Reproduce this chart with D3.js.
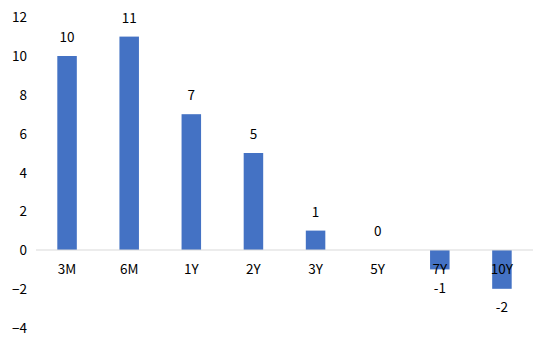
<!DOCTYPE html>
<html>
<head>
<meta charset="utf-8">
<script src="https://cdn.jsdelivr.net/npm/d3@7"></script>
<style>
  html, body { margin: 0; padding: 0; background: #fff; }
  svg { display: block; }
  text { font-family: "Noto Sans CJK SC", "Noto Sans", sans-serif; font-size: 13.5px; fill: #000; }
</style>
</head>
<body>
<script>
const categories = ["3M", "6M", "1Y", "2Y", "3Y", "5Y", "7Y", "10Y"];
const values = [10, 11, 7, 5, 1, 0, -1, -2];
const yTicks = [-4, -2, 0, 2, 4, 6, 8, 10, 12];

(function () {
const W = 550, H = 346;
const plotLeft = 36, plotRight = 533, plotTop = 17.2, plotBottom = 327.6;

const svg = d3.select("body").append("svg").attr("width", W).attr("height", H);

const x = d3.scaleBand().domain(categories).range([plotLeft, plotRight]).paddingInner(0.686).paddingOuter(0.343);
const y = d3.scaleLinear().domain([-4, 12]).range([plotBottom, plotTop]);

// y tick labels
const yAxis = d3.axisLeft(y).tickValues(yTicks).tickSize(0).tickPadding(0).tickFormat(d3.format("d"));
const ya = svg.append("g").attr("transform", "translate(27,0)").call(yAxis);
ya.select(".domain").remove();
ya.attr("font-size", null).attr("font-family", null);
ya.selectAll("text").attr("fill", null).attr("dy", "0.35em");

// bars
svg.append("g").selectAll("rect").data(values).join("rect")
  .attr("x", (d, i) => x(categories[i]))
  .attr("width", x.bandwidth())
  .attr("y", d => y(Math.max(0, d)))
  .attr("height", d => Math.abs(y(d) - y(0)))
  .attr("fill", "#4472C4");

// zero line
svg.append("line")
  .attr("x1", plotLeft).attr("x2", plotRight)
  .attr("y1", y(0)).attr("y2", y(0))
  .attr("stroke", "#d9d9d9").attr("stroke-width", 1);

// category labels
const xAxis = d3.axisBottom(x).tickSize(0).tickPadding(0);
const xa = svg.append("g").attr("transform", `translate(0,${y(0)})`).call(xAxis);
xa.select(".domain").remove();
xa.attr("font-size", null).attr("font-family", null);
xa.selectAll("text").attr("fill", null).attr("y", 0).attr("dy", "24px");

// data labels
svg.append("g").selectAll("text").data(values).join("text")
  .attr("x", (d, i) => x(categories[i]) + x.bandwidth() / 2)
  .attr("y", d => d >= 0 ? y(d) - 18.5 : y(d) + 18.5)
  .attr("dy", "0.35em")
  .attr("text-anchor", "middle")
  .text(d => d);
})();
</script>
</body>
</html>
